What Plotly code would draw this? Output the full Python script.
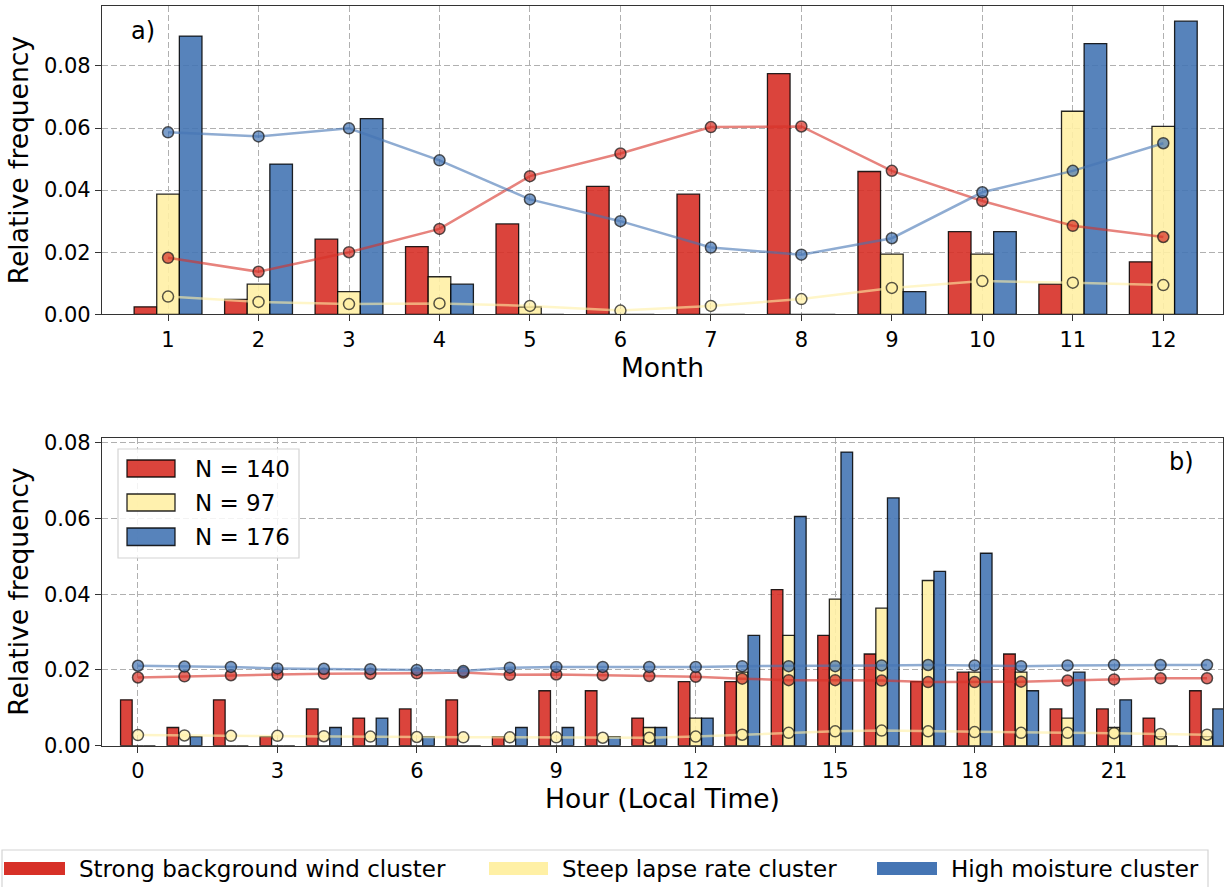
import plotly.graph_objects as go

# ---------------- data ----------------
months = list(range(1, 13))
month_wind = [0.0024, 0.0048, 0.0242, 0.0218, 0.0291, 0.0412, 0.0387, 0.0775, 0.0460, 0.0266, 0.0097, 0.0169]
month_lapse = [0.0387, 0.0097, 0.0073, 0.0121, 0.0024, 0.0, 0.0, 0.0, 0.0194, 0.0194, 0.0654, 0.0605]
month_moist = [0.0896, 0.0484, 0.0630, 0.0097, 0.0, 0.0, 0.0, 0.0, 0.0073, 0.0266, 0.0872, 0.0944]
month_wind_line = [0.0182, 0.0137, 0.0200, 0.0275, 0.0445, 0.0518, 0.0603, 0.0605, 0.0462, 0.0365, 0.0285, 0.0249]
month_lapse_line = [0.0057, 0.0040, 0.0033, 0.0035, 0.0027, 0.0012, 0.0027, 0.0049, 0.0085, 0.0107, 0.0102, 0.0094]
month_moist_line = [0.0586, 0.0573, 0.0599, 0.0496, 0.0370, 0.0300, 0.0215, 0.0192, 0.0245, 0.0393, 0.0462, 0.0551]

hours = list(range(24))
hour_wind = [0.0121, 0.0048, 0.0121, 0.0024, 0.0097, 0.0073, 0.0097, 0.0121, 0.0024, 0.0145, 0.0145, 0.0073,
             0.0169, 0.0169, 0.0412, 0.0291, 0.0242, 0.0169, 0.0194, 0.0242, 0.0097, 0.0097, 0.0073, 0.0145]
hour_lapse = [0.0, 0.0, 0.0, 0.0, 0.0, 0.0, 0.0, 0.0, 0.0, 0.0, 0.0, 0.0048,
              0.0073, 0.0194, 0.0291, 0.0387, 0.0363, 0.0436, 0.0194, 0.0194, 0.0073, 0.0048, 0.0024, 0.0024]
hour_moist = [0.0, 0.0024, 0.0, 0.0, 0.0048, 0.0073, 0.0024, 0.0, 0.0048, 0.0048, 0.0024, 0.0048,
              0.0073, 0.0291, 0.0605, 0.0775, 0.0654, 0.0460, 0.0508, 0.0145, 0.0194, 0.0121, 0.0, 0.0097]
hour_wind_line = [0.0180, 0.0183, 0.0186, 0.0188, 0.0190, 0.0190, 0.0191, 0.0193, 0.0187, 0.0188, 0.0186, 0.0184,
                  0.0182, 0.0177, 0.0173, 0.0173, 0.0172, 0.0168, 0.0168, 0.0169, 0.0172, 0.0175, 0.0178, 0.0178]
hour_lapse_line = [0.0028, 0.0027, 0.0026, 0.0026, 0.0025, 0.0024, 0.0023, 0.0022, 0.0022, 0.0022, 0.0021, 0.0021,
                   0.0024, 0.0029, 0.0034, 0.0038, 0.0040, 0.0038, 0.0036, 0.0034, 0.0034, 0.0033, 0.0031, 0.0029]
hour_moist_line = [0.0211, 0.0209, 0.0208, 0.0204, 0.0203, 0.0202, 0.0200, 0.0197, 0.0206, 0.0208, 0.0208, 0.0208,
                   0.0208, 0.0210, 0.0210, 0.0210, 0.0212, 0.0213, 0.0212, 0.0210, 0.0212, 0.0213, 0.0213, 0.0213]

counts_labels = ["N = 140", "N = 97", "N = 176"]
cluster_names = ["Strong background wind cluster", "Steep lapse rate cluster", "High moisture cluster"]
month_ticks = months
hour_ticks = [0, 3, 6, 9, 12, 15, 18, 21]
freq_ticks_a = [0.0, 0.02, 0.04, 0.06, 0.08]
freq_ticks_b = [0.0, 0.02, 0.04, 0.06, 0.08]

# ---------------- style ----------------
W, H = 1227, 887
FONT = "DejaVu Sans"
rgb = [(215, 48, 39), (255, 240, 165), (69, 117, 180)]


def rgba(c, a):
    return f"rgba({c[0]},{c[1]},{c[2]},{a})"


def fx(p):
    return p / W


def fy(p):
    return 1 - p / H


fig = go.Figure()

bar_sets = [
    ("x", "y", months, [month_wind, month_lapse, month_moist],
     [month_wind_line, month_lapse_line, month_moist_line]),
    ("x2", "y2", hours, [hour_wind, hour_lapse, hour_moist],
     [hour_wind_line, hour_lapse_line, hour_moist_line]),
]

for xa, ya, xs, bars, lines in bar_sets:
    for i, vals in enumerate(bars):
        fig.add_trace(go.Bar(
            x=xs, y=vals, xaxis=xa, yaxis=ya,
            marker=dict(color=rgba(rgb[i], 0.9), line=dict(color="rgba(0,0,0,0.85)", width=1.3)),
            showlegend=False, hoverinfo="skip"))
    for i, vals in enumerate(lines):
        fig.add_trace(go.Scatter(
            x=xs, y=vals, xaxis=xa, yaxis=ya, mode="lines+markers",
            line=dict(color=rgba(rgb[i], 0.6), width=2.5),
            marker=dict(size=11, color=rgba(rgb[i], 0.7),
                        line=dict(color="rgba(30,30,30,0.75)", width=1.5)),
            showlegend=False, hoverinfo="skip"))

axis_common = dict(
    showline=True, linecolor="#333333", linewidth=1.3, mirror=True,
    ticks="outside", ticklen=6, tickwidth=1.3, tickcolor="#333333",
    tickfont=dict(family=FONT, size=21, color="black"),
    showgrid=True, gridcolor="#b0b0b0", gridwidth=1, griddash="6px,3px",
    zeroline=False, automargin=False,
)
TITLE_SIZE = 26.5

fig.update_layout(
    width=W, height=H,
    margin=dict(l=0, r=0, t=0, b=0),
    paper_bgcolor="white", plot_bgcolor="white",
    barmode="group", bargap=0.25, bargroupgap=0,
    showlegend=False,
    font=dict(family=FONT, size=21, color="black"),
    xaxis=dict(axis_common, domain=[fx(102), fx(1223)], range=[0.27, 12.66],
               tickvals=month_ticks, anchor="y",
               title=dict(text="Month", font=dict(family=FONT, size=TITLE_SIZE), standoff=5)),
    yaxis=dict(axis_common, domain=[fy(314.3), fy(6)], range=[0, 0.0993],
               tickvals=freq_ticks_a, tickformat=".2f", anchor="x",
               title=dict(text="Relative frequency", font=dict(family=FONT, size=TITLE_SIZE), standoff=7)),
    xaxis2=dict(axis_common, domain=[fx(102), fx(1223)], range=[-0.774, 23.344],
                tickvals=hour_ticks, anchor="y2",
                title=dict(text="Hour (Local Time)", font=dict(family=FONT, size=TITLE_SIZE), standoff=5)),
    yaxis2=dict(axis_common, domain=[fy(745.7), fy(437.7)], range=[0, 0.0813],
                tickvals=freq_ticks_b, tickformat=".2f", anchor="x2",
                title=dict(text="Relative frequency", font=dict(family=FONT, size=TITLE_SIZE), standoff=7)),
)

shapes = []
annotations = []

# panel labels
annotations.append(dict(text="a)", x=fx(129), y=fy(31), xref="paper", yref="paper",
                        xanchor="left", yanchor="middle", showarrow=False,
                        font=dict(family=FONT, size=24, color="black")))
annotations.append(dict(text="b)", x=fx(1196), y=fy(462), xref="paper", yref="paper",
                        xanchor="right", yanchor="middle", showarrow=False,
                        font=dict(family=FONT, size=24, color="black")))

# inner legend (panel b)
shapes.append(dict(type="rect", xref="paper", yref="paper",
                   x0=fx(118), x1=fx(299), y0=fy(558), y1=fy(449),
                   line=dict(color="#d4d4d4", width=1.2), fillcolor="rgba(255,255,255,0.85)",
                   layer="above"))
patch_y = [(460, 477), (494, 511), (528, 545.5)]
for i, (t, b) in enumerate(patch_y):
    shapes.append(dict(type="rect", xref="paper", yref="paper",
                       x0=fx(127), x1=fx(175), y0=fy(b), y1=fy(t),
                       line=dict(color="rgba(0,0,0,0.85)", width=1.3),
                       fillcolor=rgba(rgb[i], 0.9), layer="above"))
    annotations.append(dict(text=counts_labels[i], x=fx(193), y=fy((t + b) / 2 + 0.5),
                            xref="paper", yref="paper", xanchor="left", yanchor="middle",
                            showarrow=False, font=dict(family=FONT, size=23, color="black")))

# bottom legend
shapes.append(dict(type="rect", xref="paper", yref="paper",
                   x0=fx(2), x1=fx(1208), y0=fy(900), y1=fy(850),
                   line=dict(color="#d4d4d4", width=1.2), fillcolor="white", layer="above"))
patch_x = [(4, 65), (489, 548), (877, 937)]
text_x = [77, 560, 949]
for i, (l, r) in enumerate(patch_x):
    shapes.append(dict(type="rect", xref="paper", yref="paper",
                       x0=fx(l), x1=fx(r), y0=fy(875), y1=fy(862),
                       line=dict(width=0), fillcolor=rgba(rgb[i], 1.0), layer="above"))
    annotations.append(dict(text=cluster_names[i], x=fx(text_x[i]), y=fy(868.5),
                            xref="paper", yref="paper", xanchor="left", yanchor="middle",
                            showarrow=False, font=dict(family=FONT, size=23, color="black")))

fig.update_layout(shapes=shapes, annotations=annotations)

fig.write_html("out.html")
